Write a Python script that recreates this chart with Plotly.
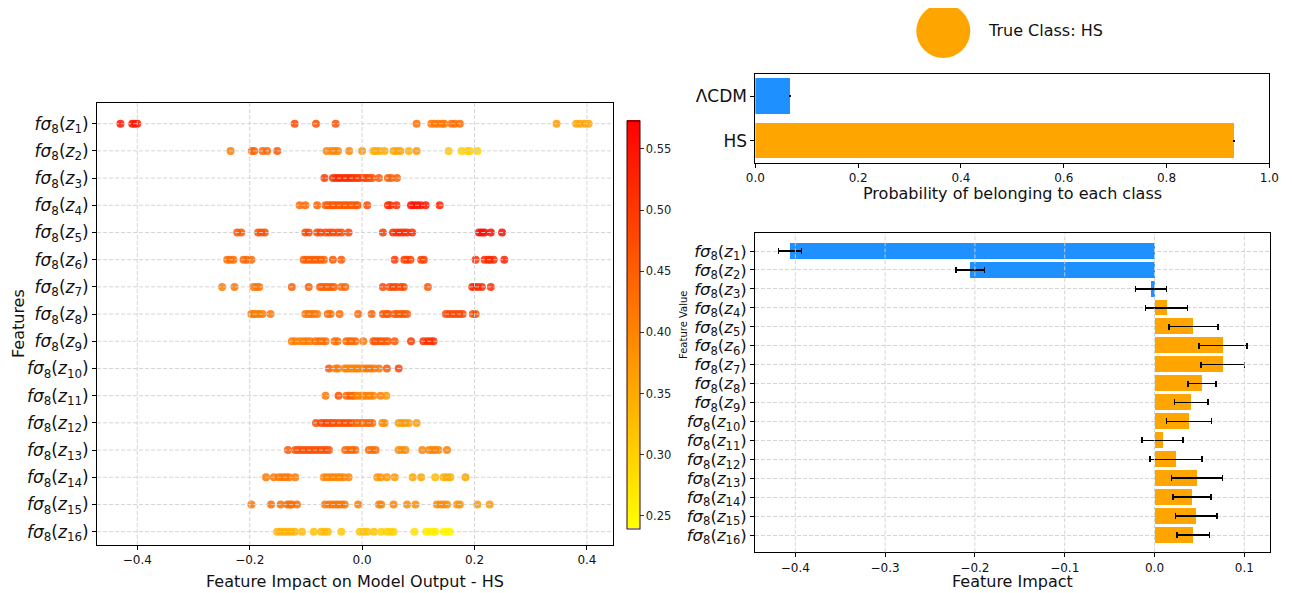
import plotly.graph_objects as go

# ---------------- data ----------------
feature_labels = [f"<i>fσ</i><sub>8</sub>(<i>z</i><sub>{i}</sub>)" for i in range(1, 17)]
row_index = list(range(1, 17))

impact_z1 = [-0.430, -0.409, -0.405, -0.400, -0.120, -0.082, -0.047, 0.097, 0.123, 0.129, 0.135, 0.142, 0.146, 0.159, 0.165, 0.174, 0.346, 0.381, 0.388, 0.396, 0.403]
value_z1 = [0.55, 0.54, 0.54, 0.54, 0.48, 0.47, 0.47, 0.43, 0.42, 0.42, 0.42, 0.42, 0.42, 0.43, 0.43, 0.43, 0.37, 0.36, 0.36, 0.36, 0.36]

impact_z2 = [-0.234, -0.196, -0.192, -0.177, -0.169, -0.151, -0.063, -0.055, -0.049, -0.043, -0.023, 0.000, 0.020, 0.025, 0.031, 0.040, 0.056, 0.062, 0.068, 0.083, 0.097, 0.154, 0.177, 0.187, 0.192, 0.205]
value_z2 = [0.41, 0.44, 0.44, 0.44, 0.44, 0.46, 0.40, 0.40, 0.40, 0.40, 0.40, 0.38, 0.35, 0.35, 0.35, 0.35, 0.36, 0.36, 0.36, 0.34, 0.37, 0.31, 0.30, 0.30, 0.30, 0.30]

impact_z3 = [-0.067, -0.052, -0.047, -0.042, -0.037, -0.031, -0.027, -0.022, -0.017, -0.012, -0.007, -0.002, 0.003, 0.008, 0.012, 0.018, 0.030, 0.046, 0.052, 0.062]
value_z3 = [0.50, 0.50, 0.51, 0.52, 0.52, 0.52, 0.51, 0.52, 0.51, 0.50, 0.50, 0.49, 0.49, 0.48, 0.48, 0.47, 0.46, 0.45, 0.45, 0.45]

impact_z4 = [-0.111, -0.101, -0.080, -0.065, -0.060, -0.055, -0.050, -0.046, -0.041, -0.036, -0.031, -0.027, -0.022, -0.017, -0.012, -0.008, 0.009, 0.046, 0.050, 0.061, 0.087, 0.092, 0.098, 0.104, 0.113, 0.138]
value_z4 = [0.44, 0.44, 0.45, 0.46, 0.46, 0.46, 0.46, 0.46, 0.46, 0.46, 0.46, 0.46, 0.46, 0.46, 0.46, 0.46, 0.48, 0.52, 0.52, 0.52, 0.55, 0.55, 0.55, 0.55, 0.55, 0.53]

impact_z5 = [-0.222, -0.215, -0.185, -0.179, -0.173, -0.101, -0.095, -0.080, -0.074, -0.065, -0.058, -0.052, -0.044, -0.037, -0.024, 0.037, 0.055, 0.062, 0.068, 0.074, 0.080, 0.089, 0.208, 0.213, 0.218, 0.229, 0.249]
value_z5 = [0.46, 0.46, 0.47, 0.47, 0.47, 0.48, 0.48, 0.48, 0.48, 0.48, 0.48, 0.48, 0.48, 0.48, 0.48, 0.50, 0.52, 0.52, 0.52, 0.52, 0.52, 0.52, 0.56, 0.56, 0.56, 0.56, 0.56]

impact_z6 = [-0.240, -0.235, -0.229, -0.211, -0.205, -0.197, -0.104, -0.099, -0.094, -0.089, -0.084, -0.079, -0.074, -0.068, -0.052, -0.037, 0.058, 0.075, 0.080, 0.086, 0.105, 0.110, 0.202, 0.218, 0.224, 0.228, 0.234, 0.253]
value_z6 = [0.43, 0.43, 0.43, 0.44, 0.44, 0.44, 0.45, 0.45, 0.45, 0.45, 0.45, 0.45, 0.45, 0.45, 0.46, 0.46, 0.50, 0.49, 0.49, 0.49, 0.49, 0.49, 0.51, 0.52, 0.52, 0.52, 0.52, 0.53]

impact_z7 = [-0.249, -0.227, -0.193, -0.187, -0.183, -0.125, -0.095, -0.075, -0.070, -0.065, -0.060, -0.055, -0.050, -0.037, -0.030, 0.037, 0.049, 0.055, 0.061, 0.069, 0.074, 0.117, 0.196, 0.200, 0.206, 0.213, 0.229]
value_z7 = [0.41, 0.42, 0.42, 0.42, 0.42, 0.45, 0.45, 0.45, 0.45, 0.45, 0.45, 0.45, 0.45, 0.44, 0.44, 0.48, 0.48, 0.48, 0.48, 0.48, 0.48, 0.46, 0.52, 0.52, 0.52, 0.52, 0.51]

impact_z8 = [-0.197, -0.193, -0.188, -0.183, -0.177, -0.163, -0.101, -0.096, -0.091, -0.086, -0.080, -0.061, -0.056, -0.040, -0.007, 0.017, 0.037, 0.043, 0.047, 0.058, 0.063, 0.069, 0.074, 0.080, 0.149, 0.155, 0.161, 0.167, 0.173, 0.179, 0.197, 0.202]
value_z8 = [0.41, 0.41, 0.41, 0.41, 0.41, 0.42, 0.42, 0.42, 0.42, 0.42, 0.42, 0.43, 0.43, 0.43, 0.44, 0.45, 0.46, 0.46, 0.46, 0.46, 0.46, 0.46, 0.46, 0.46, 0.48, 0.48, 0.48, 0.48, 0.48, 0.48, 0.47, 0.47]

impact_z9 = [-0.125, -0.119, -0.111, -0.104, -0.098, -0.092, -0.083, -0.077, -0.071, -0.065, -0.049, -0.044, -0.028, -0.023, -0.018, -0.012, 0.002, 0.020, 0.024, 0.029, 0.034, 0.040, 0.046, 0.058, 0.087, 0.109, 0.116, 0.122, 0.127]
value_z9 = [0.41, 0.41, 0.41, 0.41, 0.41, 0.41, 0.43, 0.43, 0.43, 0.43, 0.43, 0.43, 0.44, 0.44, 0.44, 0.44, 0.42, 0.46, 0.46, 0.46, 0.46, 0.46, 0.46, 0.46, 0.50, 0.51, 0.51, 0.51, 0.51]

impact_z10 = [-0.059, -0.047, -0.043, -0.031, -0.027, -0.022, -0.017, -0.012, -0.008, -0.003, 0.003, 0.009, 0.015, 0.021, 0.030, 0.044, 0.065]
value_z10 = [0.46, 0.41, 0.41, 0.40, 0.40, 0.40, 0.40, 0.40, 0.40, 0.40, 0.40, 0.42, 0.42, 0.42, 0.42, 0.46, 0.48]

impact_z11 = [-0.065, -0.042, -0.028, -0.023, -0.018, -0.014, -0.009, -0.004, 0.001, 0.005, 0.010, 0.015, 0.020, 0.033, 0.043]
value_z11 = [0.42, 0.47, 0.44, 0.44, 0.44, 0.44, 0.40, 0.40, 0.40, 0.40, 0.40, 0.40, 0.40, 0.41, 0.38]

impact_z12 = [-0.082, -0.073, -0.067, -0.062, -0.056, -0.052, -0.047, -0.041, -0.035, -0.030, -0.024, -0.018, -0.012, -0.006, 0.000, 0.006, 0.012, 0.018, 0.036, 0.040, 0.065, 0.071, 0.077, 0.083, 0.097]
value_z12 = [0.48, 0.48, 0.48, 0.48, 0.48, 0.47, 0.47, 0.47, 0.47, 0.47, 0.47, 0.47, 0.44, 0.44, 0.44, 0.44, 0.44, 0.44, 0.39, 0.39, 0.37, 0.37, 0.37, 0.37, 0.37]

impact_z13 = [-0.132, -0.119, -0.113, -0.107, -0.101, -0.095, -0.089, -0.083, -0.077, -0.071, -0.065, -0.059, -0.030, -0.024, -0.018, -0.012, 0.012, 0.018, 0.024, 0.065, 0.071, 0.077, 0.107, 0.119, 0.125, 0.130, 0.136, 0.151]
value_z13 = [0.46, 0.47, 0.47, 0.47, 0.47, 0.47, 0.47, 0.47, 0.47, 0.47, 0.47, 0.47, 0.44, 0.44, 0.44, 0.44, 0.43, 0.43, 0.43, 0.39, 0.39, 0.39, 0.40, 0.40, 0.40, 0.40, 0.40, 0.41]

impact_z14 = [-0.171, -0.157, -0.148, -0.142, -0.136, -0.130, -0.119, -0.068, -0.062, -0.056, -0.050, -0.044, -0.039, -0.033, -0.024, 0.027, 0.033, 0.044, 0.058, 0.090, 0.105, 0.130, 0.145, 0.151, 0.157, 0.184]
value_z14 = [0.42, 0.42, 0.42, 0.42, 0.42, 0.42, 0.42, 0.40, 0.40, 0.40, 0.40, 0.40, 0.40, 0.40, 0.40, 0.38, 0.38, 0.38, 0.38, 0.36, 0.36, 0.33, 0.35, 0.35, 0.35, 0.36]

impact_z15 = [-0.197, -0.162, -0.145, -0.133, -0.129, -0.125, -0.116, -0.066, -0.059, -0.053, -0.047, -0.042, -0.036, -0.031, -0.007, 0.030, 0.034, 0.056, 0.080, 0.095, 0.133, 0.139, 0.145, 0.151, 0.169, 0.174, 0.205, 0.227]
value_z15 = [0.42, 0.43, 0.43, 0.43, 0.43, 0.43, 0.43, 0.42, 0.42, 0.42, 0.42, 0.42, 0.42, 0.42, 0.41, 0.40, 0.40, 0.40, 0.39, 0.39, 0.39, 0.39, 0.39, 0.39, 0.38, 0.38, 0.37, 0.37]

impact_z16 = [-0.151, -0.145, -0.139, -0.133, -0.127, -0.120, -0.107, -0.086, -0.073, -0.067, -0.061, -0.037, -0.004, 0.003, 0.009, 0.021, 0.034, 0.044, 0.050, 0.056, 0.093, 0.114, 0.120, 0.126, 0.130, 0.145, 0.151, 0.156]
value_z16 = [0.34, 0.34, 0.34, 0.34, 0.34, 0.34, 0.33, 0.32, 0.33, 0.33, 0.33, 0.31, 0.32, 0.32, 0.32, 0.32, 0.30, 0.30, 0.30, 0.30, 0.28, 0.26, 0.26, 0.26, 0.26, 0.25, 0.25, 0.25]

# class probabilities
classes = ["HS", "ΛCDM"]
class_prob = [0.932, 0.068]
class_err = [0.0008, 0.0008]
class_colors = ["#FFA500", "#1E90FF"]
true_class = "HS"

# mean feature impact with error
mean_impact = [-0.4057, -0.2054, -0.0037, 0.0136, 0.0434, 0.0763, 0.0760, 0.0529, 0.0409, 0.0383, 0.0089, 0.0239, 0.0473, 0.0418, 0.0465, 0.0431]
impact_err = [0.0128, 0.0158, 0.0173, 0.0234, 0.0275, 0.0268, 0.0241, 0.0158, 0.0187, 0.0251, 0.0228, 0.0290, 0.0283, 0.0213, 0.0232, 0.0183]

left_xticks = [-0.4, -0.2, 0.0, 0.2, 0.4]
right_xticks = [-0.4, -0.3, -0.2, -0.1, 0.0, 0.1]
prob_xticks = [0.0, 0.2, 0.4, 0.6, 0.8, 1.0]
cbar_ticks = [0.25, 0.30, 0.35, 0.40, 0.45, 0.50, 0.55]
cbar_min, cbar_max = 0.2397, 0.5732

# ---------------- figure ----------------
OX, OY = 8, 8            # page body margin in the browser
W, H = 1292 - OX, 593 - OY
FONT = "DejaVu Sans"
GRID = "rgba(208,208,208,0.9)"
TITLE_FONT = dict(size=16, family=FONT, color="#111")

impacts = [impact_z1, impact_z2, impact_z3, impact_z4, impact_z5, impact_z6, impact_z7, impact_z8,
           impact_z9, impact_z10, impact_z11, impact_z12, impact_z13, impact_z14, impact_z15, impact_z16]
values = [value_z1, value_z2, value_z3, value_z4, value_z5, value_z6, value_z7, value_z8,
          value_z9, value_z10, value_z11, value_z12, value_z13, value_z14, value_z15, value_z16]

sx, sy, sc = [], [], []
for r, (xs, cs) in zip(row_index, zip(impacts, values)):
    sx += xs
    sy += [r] * len(xs)
    sc += cs


def px(x):
    return (x - OX) / W


def py(y):
    return 1 - (y - OY) / H


CB_TOP, CB_BOT, CB_LEFT, CB_W = 120.7, 528.3, 626.7, 12.6

fig = go.Figure()

fig.add_trace(go.Scatter(
    x=sx, y=sy, mode="markers", xaxis="x", yaxis="y",
    marker=dict(size=8, color=sc, cmin=cbar_min, cmax=cbar_max,
                colorscale=[[0, "#ffff00"], [1, "#ff0000"]], opacity=0.85,
                line=dict(width=0),
                colorbar=dict(x=px(CB_LEFT), xanchor="left", y=py((CB_TOP + CB_BOT) / 2), yanchor="middle",
                              len=CB_BOT - CB_TOP, lenmode="pixels", xpad=0, ypad=0,
                              thickness=CB_W, thicknessmode="pixels",
                              outlinewidth=1, outlinecolor="#3a0000",
                              tickvals=cbar_ticks, ticktext=[f"{v:.2f}" for v in cbar_ticks],
                              ticks="outside", ticklen=3.5, tickcolor="#333",
                              tickfont=dict(family=FONT, size=11.5, color="#222"))),
    showlegend=False, hoverinfo="skip"))

fig.add_trace(go.Bar(
    x=class_prob, y=[0, 1], orientation="h", xaxis="x2", yaxis="y2",
    marker=dict(color=class_colors, line=dict(width=0)), width=0.8,
    error_x=dict(type="data", array=class_err, color="black", thickness=1, width=1),
    showlegend=False, hoverinfo="skip"))

bar_colors = ["#1E90FF" if v < 0 else "#FFA500" for v in mean_impact]
fig.add_trace(go.Bar(
    x=mean_impact, y=row_index, orientation="h", xaxis="x3", yaxis="y3",
    marker=dict(color=bar_colors, line=dict(width=0)), width=0.84,
    error_x=dict(type="data", array=impact_err, color="black", thickness=1.5, width=3),
    showlegend=False, hoverinfo="skip"))

axis_common = dict(showline=True, linecolor="black", linewidth=1, mirror=True, automargin=False,
                   ticks="outside", ticklen=4, tickcolor="black", showgrid=False,
                   zeroline=False, tickfont=dict(family=FONT, size=12, color="#111"))

fig.update_layout(
    width=W, height=H, margin=dict(l=0, r=0, t=0, b=0, autoexpand=False),
    paper_bgcolor="white", plot_bgcolor="white",
    font=dict(family=FONT, color="#111"),
    bargap=0,
    xaxis=dict(domain=[px(97.1), px(612.5)], range=[-0.4715, 0.4455], anchor="y",
               tickvals=left_xticks, tickformat=".1f", **axis_common),
    yaxis=dict(domain=[py(545), py(103.3)], range=[16.49, 0.25], anchor="x",
               tickvals=row_index, ticktext=feature_labels,
               **{**axis_common, "tickfont": dict(family=FONT, size=17, color="#111")}),
    xaxis2=dict(domain=[px(755.4), px(1269.3)], range=[0, 1], anchor="y2",
                tickvals=prob_xticks, tickformat=".1f", **axis_common),
    yaxis2=dict(domain=[py(163), py(74.3)], range=[-0.5, 1.5], anchor="x2",
                tickvals=[0, 1], ticktext=classes,
                **{**axis_common, "tickfont": dict(family=FONT, size=17, color="#111")}),
    xaxis3=dict(domain=[px(755), px(1270)], range=[-0.4449, 0.1286], anchor="y3",
                tickvals=right_xticks, tickformat=".1f", **axis_common),
    yaxis3=dict(domain=[py(552.3), py(233.3)], range=[16.914, 0.065], anchor="x3",
                tickvals=row_index, ticktext=feature_labels,
                **{**axis_common, "tickfont": dict(family=FONT, size=16.5, color="#111"),
                   "showgrid": True, "gridcolor": GRID, "griddash": "4px,2px", "gridwidth": 1}),
)

# dashed grid lines drawn above the marks (as in the reference)
dash_line = dict(color=GRID, width=1, dash="4px,2px")
shapes = []
for t in left_xticks:
    shapes.append(dict(type="line", xref="x", yref="y domain", x0=t, x1=t, y0=0, y1=1,
                       line=dash_line, layer="above"))
for r in row_index:
    shapes.append(dict(type="line", xref="x domain", yref="y", x0=0, x1=1, y0=r, y1=r,
                       line=dash_line, layer="above"))
for t in right_xticks:
    shapes.append(dict(type="line", xref="x3", yref="y3 domain", x0=t, x1=t, y0=0, y1=1,
                       line=dash_line, layer="above"))
# faint dashed grid inside the colour bar at its ticks
for v in cbar_ticks:
    ypix = CB_BOT - (v - cbar_min) / (cbar_max - cbar_min) * (CB_BOT - CB_TOP)
    shapes.append(dict(type="line", xref="paper", yref="paper",
                       x0=px(CB_LEFT + 1), x1=px(CB_LEFT + CB_W - 1), y0=py(ypix), y1=py(ypix),
                       line=dict(color="rgba(230,230,230,0.8)", width=1, dash="3px,2px"), layer="above"))
# true-class marker circle
shapes.append(dict(type="circle", xref="paper", yref="paper", xsizemode="pixel", ysizemode="pixel",
                   xanchor=px(943.3), yanchor=py(31), x0=-27, x1=27, y0=-27, y1=27,
                   fillcolor="#FFA500", line=dict(width=0), layer="above"))
fig.update_layout(shapes=shapes)

ann = [
    dict(text=f"True Class: {true_class}", x=px(986), y=py(31), xanchor="left", yanchor="middle",
         font=TITLE_FONT),
    dict(text="Features", x=px(18), y=py(324), textangle=-90, xanchor="center", yanchor="middle",
         font=TITLE_FONT),
    dict(text="Feature Impact on Model Output - HS", x=px(355), y=py(581), xanchor="center", yanchor="middle",
         font=TITLE_FONT),
    dict(text="Probability of belonging to each class", x=px(1012), y=py(193), xanchor="center", yanchor="middle",
         font=TITLE_FONT),
    dict(text="Feature Impact", x=px(1012), y=py(581), xanchor="center", yanchor="middle",
         font=TITLE_FONT),
    dict(text="Feature Value", x=px(683), y=py(325), textangle=-90, xanchor="center", yanchor="middle",
         font=dict(size=10, family=FONT, color="#111")),
]
for a in ann:
    a.update(xref="paper", yref="paper", showarrow=False)
fig.update_layout(annotations=ann)

fig.write_html("out.html")
